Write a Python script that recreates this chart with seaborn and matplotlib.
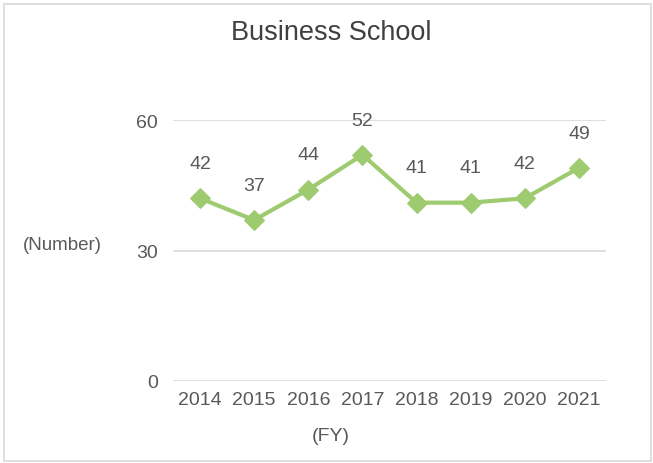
import matplotlib
matplotlib.use("Agg")
import matplotlib.pyplot as plt
import seaborn as sns
import pandas as pd
from matplotlib.patches import Rectangle

years = ["2014", "2015", "2016", "2017", "2018", "2019", "2020", "2021"]
values = [42, 37, 44, 52, 41, 41, 42, 49]
y_ticks = [0, 30, 60]
title = "Business School"
y_label = "(Number)"
x_label = "(FY)"

sns.set_theme(style="white")
plt.rcParams['font.family'] = ['Liberation Sans', 'DejaVu Sans']

df = pd.DataFrame({"year": years, "value": values})

fig = plt.figure(figsize=(6.53, 4.64), dpi=100)
ax = fig.add_axes([173/653, 1-382/464, (606-173)/653, (382-121)/464])

line_color = "#9FCB70"
text_color = "#595959"
grid_color = "#D9D9D9"

sns.lineplot(data=df, x="year", y="value", ax=ax, color=line_color, linewidth=3,
             marker="D", markersize=10.5, markeredgecolor=line_color, sort=False, zorder=3)

ax.set_xlim(-0.5, len(years) - 0.5)
ax.set_ylim(0, 60)
ax.set_yticks(y_ticks)
ax.set_yticklabels([str(t) for t in y_ticks])
for t in y_ticks:
    ax.axhline(t, color=grid_color, linewidth=1.2, zorder=1)

for s in ax.spines.values():
    s.set_visible(False)
ax.tick_params(axis="both", length=0, labelsize=14, labelcolor=text_color)
ax.tick_params(axis="y", pad=11)
ax.tick_params(axis="x", pad=7)
ax.set_xlabel("")
ax.set_ylabel("")

for i, v in enumerate(values):
    ax.annotate(str(v), xy=(i, v), xytext=(0, 25), textcoords="offset points",
                ha="center", va="center", fontsize=14, color=text_color,
                annotation_clip=False)

fig.text(331/653, 1-33/464, title, ha="center", va="center", fontsize=19.5, color="#404040")
fig.text(62/653, 1-245/464, y_label, ha="center", va="center", fontsize=13.5, color=text_color)
fig.text(331/653, 1-437/464, x_label, ha="center", va="center", fontsize=14, color=text_color)

fig.patches.append(Rectangle((4/653, 1-462/464), (651-4)/653, (462-5)/464,
                             transform=fig.transFigure, fill=False,
                             edgecolor=grid_color, linewidth=1.2))

fig.savefig("out.png", dpi=100)
